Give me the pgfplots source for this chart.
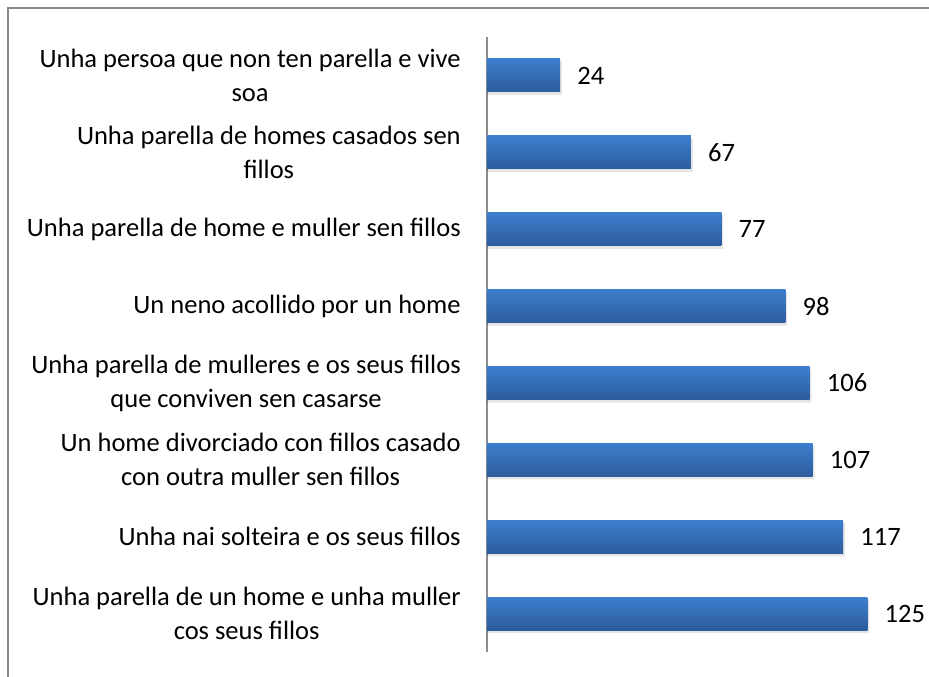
\documentclass[border=0pt]{standalone}
\usepackage{pgfplots}
\pgfplotsset{compat=1.18}
\usepackage{fontspec}
\setmainfont{Carlito}
\definecolor{barTop}{HTML}{3D7ECE}
\definecolor{barBot}{HTML}{2C5C9C}
\definecolor{frameGray}{HTML}{878787}
\definecolor{axisGray}{HTML}{8C8C8C}

\begin{document}
\begin{tikzpicture}
\fontsize{19.9pt}{25.5pt}\selectfont
% 1 px = 0.75 pt
\path[use as bounding box] (0,0) rectangle (696.75pt,507.75pt);
\draw[frameGray, line width=1.6pt] (6pt,-10pt) -- (6pt,501.75pt) -- (710pt,501.75pt);
\begin{axis}[
  at={(365.25pt,18.75pt)}, anchor=south west,
  scale only axis, width=319.6pt, height=461.25pt,
  xbar, bar width=24.75pt,
  xmin=0, xmax=140, ymin=0.5, ymax=8.5, y dir=reverse,
  axis x line=none, axis y line=left,
  axis line style={-, draw=axisGray, line width=1.1pt},
  major tick length=0pt,
  /pgf/number format/assume math mode=true,
  ytick={1,...,8},
  yticklabels={
    {Unha persoa que non ten parella e vive\\soa},
    {Unha parella de homes casados sen\\fillos},
    {Unha parella de home e muller sen fillos},
    {Un neno acollido por un home},
    {Unha parella de mulleres e os seus fillos\\que conviven sen casarse},
    {Un home divorciado con fillos casado\\con outra muller sen fillos},
    {Unha nai solteira e os seus fillos},
    {Unha parella de un home e unha muller\\cos seus fillos}},
  yticklabel style={anchor=east, align=center, inner sep=0pt, xshift=-19.5pt,
    font=\fontsize{19.9pt}{25.5pt}\selectfont},
  nodes near coords style={anchor=west, inner sep=0pt, xshift=12.75pt,
    font=\fontsize{19.9pt}{25.5pt}\selectfont, text=black},
  barstyle/.style={draw=none, top color=barTop, bottom color=barBot,
    bar shift=0pt, nodes near coords},
  clip=false,
]
% soft shadow under the bars
\addplot[draw=none, fill=black, opacity=0.10, bar shift=-2.2pt, bar width=25pt, forget plot]
  coordinates {(24.6,1) (67.6,2) (77.6,3) (98.6,4) (106.6,5) (107.6,6) (117.6,7) (125.6,8)};
\addplot[barstyle] coordinates {(24,1)};
\addplot[barstyle] coordinates {(67,2)};
\addplot[barstyle] coordinates {(77,3)};
\addplot[barstyle] coordinates {(98,4)};
\addplot[barstyle] coordinates {(106,5)};
\addplot[barstyle] coordinates {(107,6)};
\addplot[barstyle] coordinates {(117,7)};
\addplot[barstyle] coordinates {(125,8)};
\end{axis}
\end{tikzpicture}
\end{document}
